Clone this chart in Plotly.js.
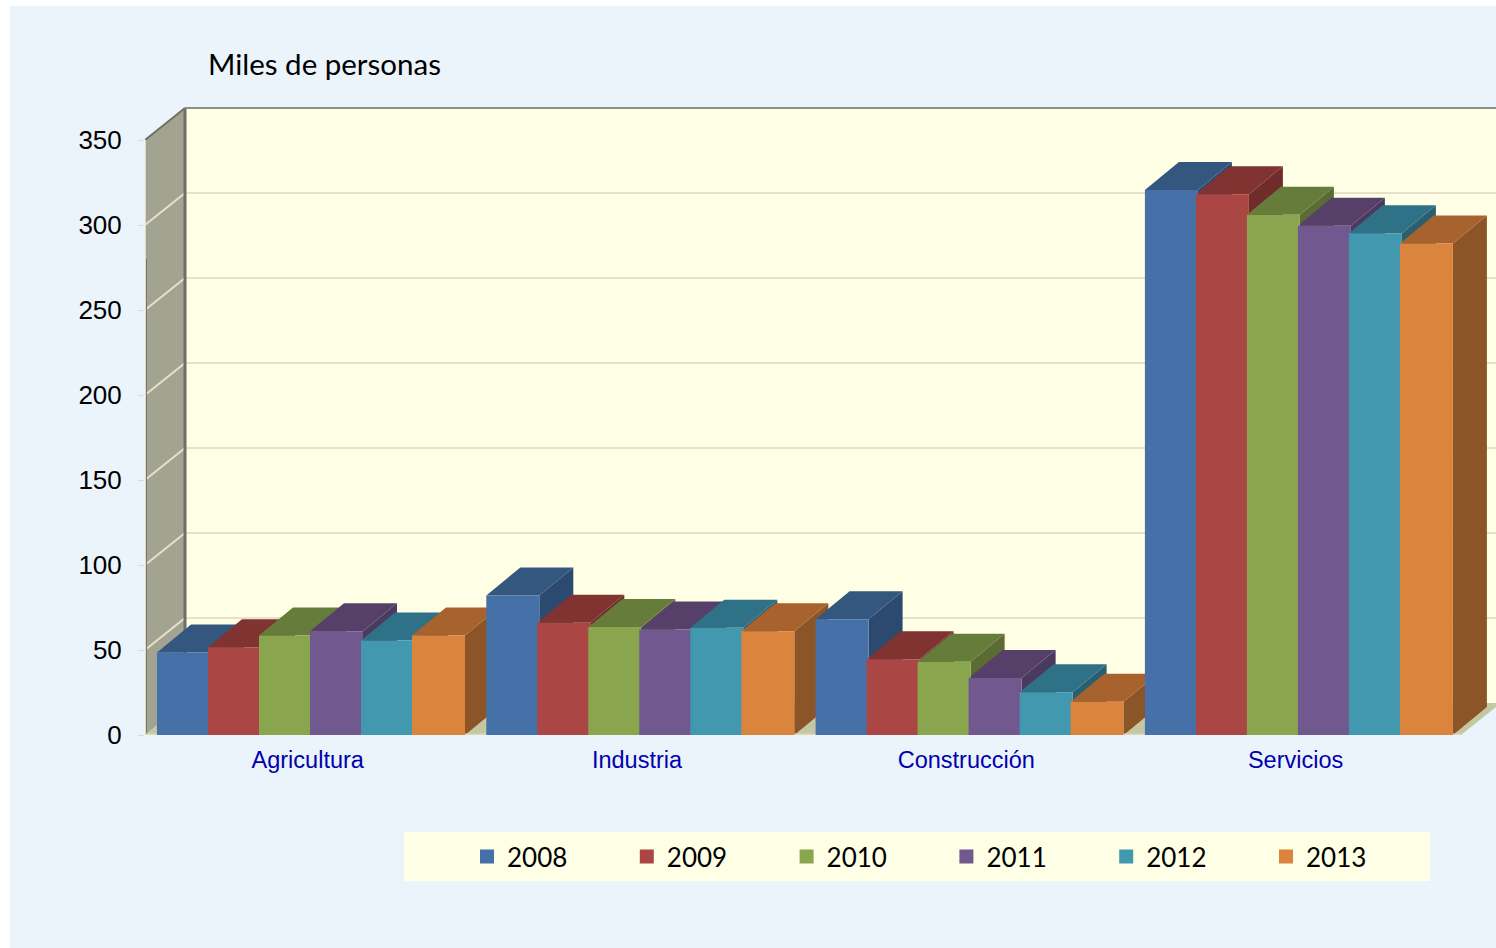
<!DOCTYPE html>
<html>
<head>
<meta charset="utf-8">
<script src="https://cdn.plot.ly/plotly-3.0.1.min.js"></script>
<style>
html,body{margin:0;padding:0;background:#fff;overflow:hidden}
#chart{position:absolute;left:10px;top:6px;width:1486px;height:942px}
</style>
</head>
<body>
<div id="chart"></div>
<script>
const categories = ["Agricultura", "Industria", "Construcción", "Servicios"];
const years = ["2008", "2009", "2010", "2011", "2012", "2013"];
const v2008 = [48, 81.5, 67.5, 320];
const v2009 = [51, 65.5, 44, 317.5];
const v2010 = [58, 63, 42.5, 305.5];
const v2011 = [60.5, 61.5, 33, 299];
const v2012 = [55, 62.5, 24.5, 294.5];
const v2013 = [58, 60.5, 19, 288.5];
const yTicks = [0, 50, 100, 150, 200, 250, 300, 350];

const seriesValues = [v2008, v2009, v2010, v2011, v2012, v2013];
const frontColors = ["#4571a8", "#aa4643", "#89a54e", "#71588f", "#4198af", "#db843d"];
const topColors   = ["#34577f", "#803331", "#667c3a", "#564069", "#2f7186", "#a7622d"];
const sideColors  = ["#2c4a70", "#702c2a", "#5a6c33", "#4b3a60", "#296070", "#8b5527"];

// Pixel scale of the frame, used only to set the axis ranges and the oblique depth.
const pxPerCat = 329.3, pxPerVal = 1.7, catZeroPx = 311, plotLeft = 145, plotRight = 1496, baseY = 735, plotTop = 106;
const xMin = (plotLeft - catZeroPx) / pxPerCat, xMax = (plotRight - catZeroPx) / pxPerCat;
const yMax = (baseY - plotTop) / pxPerVal;
const wallDx = 40 / pxPerCat, wallDy = 32 / pxPerVal;
const barDx = 34 / pxPerCat, barDy = 28 / pxPerVal;
const bargap = 1 - 306 / pxPerCat;
const barW = (1 - bargap) / years.length;
const strokeX = 1 / pxPerCat, strokeY = 1 / pxPerVal;

const poly = pts => "M" + pts.map(p => p[0] + "," + p[1]).join("L") + "Z";
const fillShape = (pts, color) => ({type: "path", xref: "x", yref: "y", layer: "below", path: poly(pts), fillcolor: color, line: {width: 0}});
const lineShape = (x0, y0, x1, y1, color, width) => ({type: "line", xref: "x", yref: "y", layer: "below", x0, y0, x1, y1, line: {color, width}});

const shapes = [];
// legend panel
shapes.push({type: "rect", xref: "paper", yref: "paper", layer: "below",
  x0: (404 - plotLeft) / (plotRight - plotLeft), x1: (1430 - plotLeft) / (plotRight - plotLeft),
  y0: (baseY - 881) / (baseY - plotTop), y1: (baseY - 832) / (baseY - plotTop),
  fillcolor: "#ffffe6", line: {width: 0}});
// back wall, side wall, floor
shapes.push(fillShape([[xMin + wallDx, wallDy], [xMax + 1, wallDy], [xMax + 1, 350 + wallDy], [xMin + wallDx, 350 + wallDy]], "#ffffe6"));
shapes.push(fillShape([[xMin, 0], [xMin + wallDx, wallDy], [xMin + wallDx, 350 + wallDy], [xMin, 350]], "#a3a392"));
const floorEnd = (1461 - catZeroPx) / pxPerCat;
shapes.push(fillShape([[xMin, 0], [xMin + wallDx, wallDy], [xMax + 1, wallDy], [floorEnd + wallDx, wallDy], [floorEnd, 0]], "#c5c7a2"));
// grid lines on the back and side walls
yTicks.filter(t => t > 0 && t < 350).forEach(t => {
  shapes.push(lineShape(xMin, t, xMin + wallDx, t + wallDy, "#e4e2c8", 2));
  shapes.push(lineShape(xMin + wallDx, t + wallDy, xMax + 1, t + wallDy, "#e4e2cd", 2));
});
// frame edges
shapes.push(lineShape(xMin + wallDx, wallDy, xMin + wallDx, 350 + wallDy, "#6f6f64", 3));
shapes.push(lineShape(xMin + wallDx, 350 + wallDy, xMax + 1, 350 + wallDy, "#8d908a", 2));
shapes.push(lineShape(xMin, 350, xMin + wallDx, 350 + wallDy, "#6f6f64", 2));
shapes.push(lineShape(xMin, 0, xMin, 350, "#dedcc4", 2));
shapes.push(lineShape(xMin + 1.5 / pxPerCat, 0, xMin + 1.5 / pxPerCat, 280, "#77776c", 1));
// oblique faces: painted left to right so each bar hides the side of its neighbour
categories.forEach((c, ci) => {
  seriesValues.forEach((vals, si) => {
    const v = vals[ci] + strokeY;
    const x0 = ci - (1 - bargap) / 2 + si * barW - strokeX, x1 = x0 + barW + 2 * strokeX;
    shapes.push(fillShape([[x1, 0], [x1 + barDx, barDy], [x1 + barDx, v + barDy], [x1, v]], sideColors[si]));
    shapes.push(fillShape([[x0, v], [x1, v], [x1 + barDx, v + barDy], [x0 + barDx, v + barDy]], topColors[si]));
  });
});
// front edge of the floor
shapes.push(lineShape(xMin, 0, floorEnd, 0, "#d9d8bb", 3));

const traces = years.map((yr, si) => ({
  type: "bar",
  name: yr,
  x: categories.map((c, i) => i),
  y: seriesValues[si],
  marker: {color: frontColors[si], line: {color: frontColors[si], width: 2}},
  hovertemplate: "%{y}<extra>" + yr + "</extra>"
}));

const layout = {
  width: 1486, height: 942,
  paper_bgcolor: "#ebf3fb",
  plot_bgcolor: "rgba(0,0,0,0)",
  margin: {l: plotLeft - 10, r: 0, t: plotTop - 6, b: 948 - baseY, pad: 0},
  barmode: "group", bargap: bargap, bargroupgap: 0,
  title: {text: "Miles de personas", x: 198 / 1486, xanchor: "left", xref: "container",
          y: 1 - 59 / 942, yanchor: "middle", yref: "container",
          font: {family: "Lato", size: 29.5, color: "#000"}},
  xaxis: {type: "linear", range: [xMin, xMax], tickmode: "array",
          tickvals: categories.map((c, i) => i - 0.01), ticktext: categories,
          ticks: "", showgrid: false, zeroline: false, showline: false, ticklabelstandoff: 8,
          tickfont: {family: "Liberation Sans", size: 23.5, color: "#0000b0"}},
  yaxis: {range: [0, yMax], tickmode: "array", tickvals: yTicks, ticktext: yTicks.map(String),
          ticks: "outside", ticklen: 6, tickcolor: "#dedcc4", tickwidth: 1,
          showgrid: false, zeroline: false, showline: false, ticklabelstandoff: 11,
          tickfont: {family: "Liberation Sans", size: 26, color: "#000"}},
  legend: {orientation: "h", xref: "container", yref: "container",
           x: (467 - 10) / 1486, xanchor: "left",
           y: 1 - (833 - 6) / 942, yanchor: "top", traceorder: "normal",
           entrywidth: 114.8, entrywidthmode: "pixels", bgcolor: "rgba(0,0,0,0)",
           font: {family: "Lato", size: 26, color: "#000"}},
  shapes: shapes,
  showlegend: true
};
Plotly.newPlot("chart", traces, layout, {displayModeBar: false, responsive: false});
</script>
</body>
</html>
